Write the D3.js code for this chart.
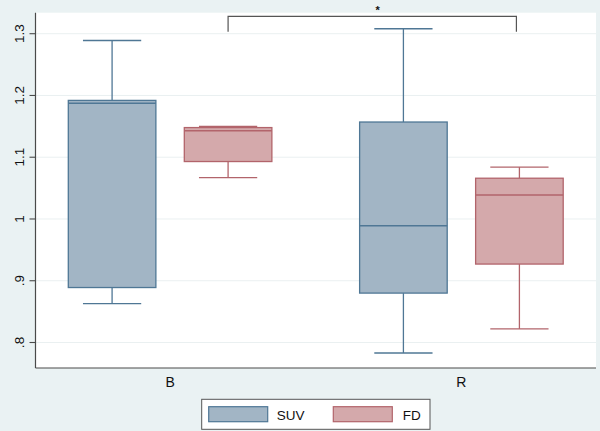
<!DOCTYPE html>
<html>
<head>
<meta charset="utf-8">
<script src="https://cdn.jsdelivr.net/npm/d3@7"></script>
<style>
  html, body { margin: 0; padding: 0; background: #eaf2f3; }
  svg { display: block; font-family: "Liberation Sans", Arial, Helvetica, sans-serif; }
</style>
</head>
<body>
<svg id="chart" width="600" height="431"></svg>
<script>
// ---- data ----
const groups = ["B", "R"];
const series = ["SUV", "FD"];
// per series, values for groups [B, R]
const whiskerLow  = { SUV: [0.863, 0.783], FD: [1.067, 0.822] };
const q1          = { SUV: [0.889, 0.880], FD: [1.093, 0.927] };
const median      = { SUV: [1.1875, 0.989], FD: [1.143, 1.039] };
const q3          = { SUV: [1.192, 1.157], FD: [1.148, 1.066] };
const whiskerHigh = { SUV: [1.289, 1.308], FD: [1.150, 1.084] };
const yTicks = [0.8, 0.9, 1.0, 1.1, 1.2, 1.3];
const yTickLabels = [".8", ".9", "1", "1.1", "1.2", "1.3"];
// significance bracket between FD boxes of B and R
const sig = { from: ["B", "FD"], to: ["R", "FD"], label: "*", level: 1.328, drop: 1.303 };

// ---- style ----
const fillColor = { SUV: "#a2b5c5", FD: "#d4a9ab" };
const strokeColor = { SUV: "#4f7795", FD: "#b2646b" };

const svg = d3.select("#chart");
const plotLeft = 35.5, plotRight = 596;

const y = d3.scaleLinear().domain([0.8, 1.3]).range([342.5, 33.7]);
const plotTop = 12.7, plotBottom = 368;

const x = d3.scalePoint().domain(groups).range([plotLeft, plotRight]).padding(0.462);
const xs = d3.scaleBand().domain(series).range([-116, 116]).paddingInner(0.245).paddingOuter(0.1225);
const bw = xs.bandwidth();
const capW = bw * 0.665;

// plot region
svg.append("rect")
  .attr("x", plotLeft).attr("y", plotTop)
  .attr("width", plotRight - plotLeft).attr("height", plotBottom - plotTop)
  .attr("fill", "#ffffff");

// gridlines
svg.append("g").selectAll("line").data(yTicks).join("line")
  .attr("x1", plotLeft).attr("x2", plotRight)
  .attr("y1", d => y(d)).attr("y2", d => y(d))
  .attr("stroke", "#eaf0f1").attr("stroke-width", 1);

// boxes
const items = [];
groups.forEach((g, gi) => series.forEach(s => items.push({
  g, s, lo: whiskerLow[s][gi], q1: q1[s][gi], med: median[s][gi], q3: q3[s][gi], hi: whiskerHigh[s][gi]
})));
const cx = d => x(d.g) + xs(d.s) + bw / 2;

const boxG = svg.append("g");
items.forEach(d => {
  const c = cx(d), col = strokeColor[d.s];
  const gg = boxG.append("g").attr("stroke", col).attr("stroke-width", 1.3);
  // whiskers
  gg.append("line").attr("x1", c).attr("x2", c).attr("y1", y(d.q3)).attr("y2", y(d.hi));
  gg.append("line").attr("x1", c).attr("x2", c).attr("y1", y(d.q1)).attr("y2", y(d.lo));
  gg.append("line").attr("x1", c - capW / 2).attr("x2", c + capW / 2).attr("y1", y(d.hi)).attr("y2", y(d.hi));
  gg.append("line").attr("x1", c - capW / 2).attr("x2", c + capW / 2).attr("y1", y(d.lo)).attr("y2", y(d.lo));
  // box
  gg.append("rect")
    .attr("x", c - bw / 2).attr("width", bw)
    .attr("y", y(d.q3)).attr("height", y(d.q1) - y(d.q3))
    .attr("fill", fillColor[d.s]);
  // median
  gg.append("line").attr("x1", c - bw / 2).attr("x2", c + bw / 2)
    .attr("y1", y(d.med)).attr("y2", y(d.med)).attr("stroke-width", 1.5);
});

// axes
const axisColor = "#4a4a4a";
svg.append("line").attr("x1", plotLeft).attr("x2", plotLeft).attr("y1", plotTop).attr("y2", plotBottom)
  .attr("stroke", axisColor).attr("stroke-width", 1.2);
svg.append("line").attr("x1", plotLeft).attr("x2", plotRight).attr("y1", plotBottom).attr("y2", plotBottom)
  .attr("stroke", axisColor).attr("stroke-width", 1.2);

// y ticks + labels
const yAxisG = svg.append("g");
yTicks.forEach((t, i) => {
  yAxisG.append("line").attr("x1", plotLeft - 6).attr("x2", plotLeft)
    .attr("y1", y(t)).attr("y2", y(t)).attr("stroke", axisColor).attr("stroke-width", 1.1);
  yAxisG.append("text")
    .attr("transform", `translate(23.5,${y(t)}) rotate(-90)`)
    .attr("text-anchor", "middle")
    .attr("font-size", 13.5).attr("fill", "#111")
    .text(yTickLabels[i]);
});

// x labels
svg.append("g").selectAll("text").data(groups).join("text")
  .attr("x", d => x(d)).attr("y", 386.7)
  .attr("text-anchor", "middle").attr("font-size", 14).attr("fill", "#111")
  .text(d => d);

// significance bracket
const bx1 = x(sig.from[0]) + xs(sig.from[1]) + bw / 2;
const bx2 = x(sig.to[0]) + xs(sig.to[1]) + bw / 2 - 3;
svg.append("path")
  .attr("d", `M${bx1},${y(sig.drop)}V${y(sig.level)}H${bx2}V${y(sig.drop)}`)
  .attr("fill", "none").attr("stroke", "#555").attr("stroke-width", 1.2);
svg.append("text").attr("x", (bx1 + bx2) / 2 + 5.5).attr("y", 14)
  .attr("text-anchor", "middle").attr("font-size", 11).attr("font-weight", "bold").attr("fill", "#111")
  .text(sig.label);

// legend
const lg = svg.append("g");
lg.append("rect").attr("x", 201.7).attr("y", 399.3).attr("width", 228.3).attr("height", 30)
  .attr("fill", "#fff").attr("stroke", "#555").attr("stroke-width", 1);
const legX = { SUV: [208.7, 276.7], FD: [333.3, 402.7] };
series.forEach(s => {
  lg.append("rect").attr("x", legX[s][0]).attr("y", 406.7).attr("width", 59).attr("height", 15)
    .attr("fill", fillColor[s]).attr("stroke", strokeColor[s]).attr("stroke-width", 1.2);
  lg.append("text").attr("x", legX[s][1]).attr("y", 419.5).attr("font-size", 13.5).attr("fill", "#111").text(s);
});
</script>
</body>
</html>
